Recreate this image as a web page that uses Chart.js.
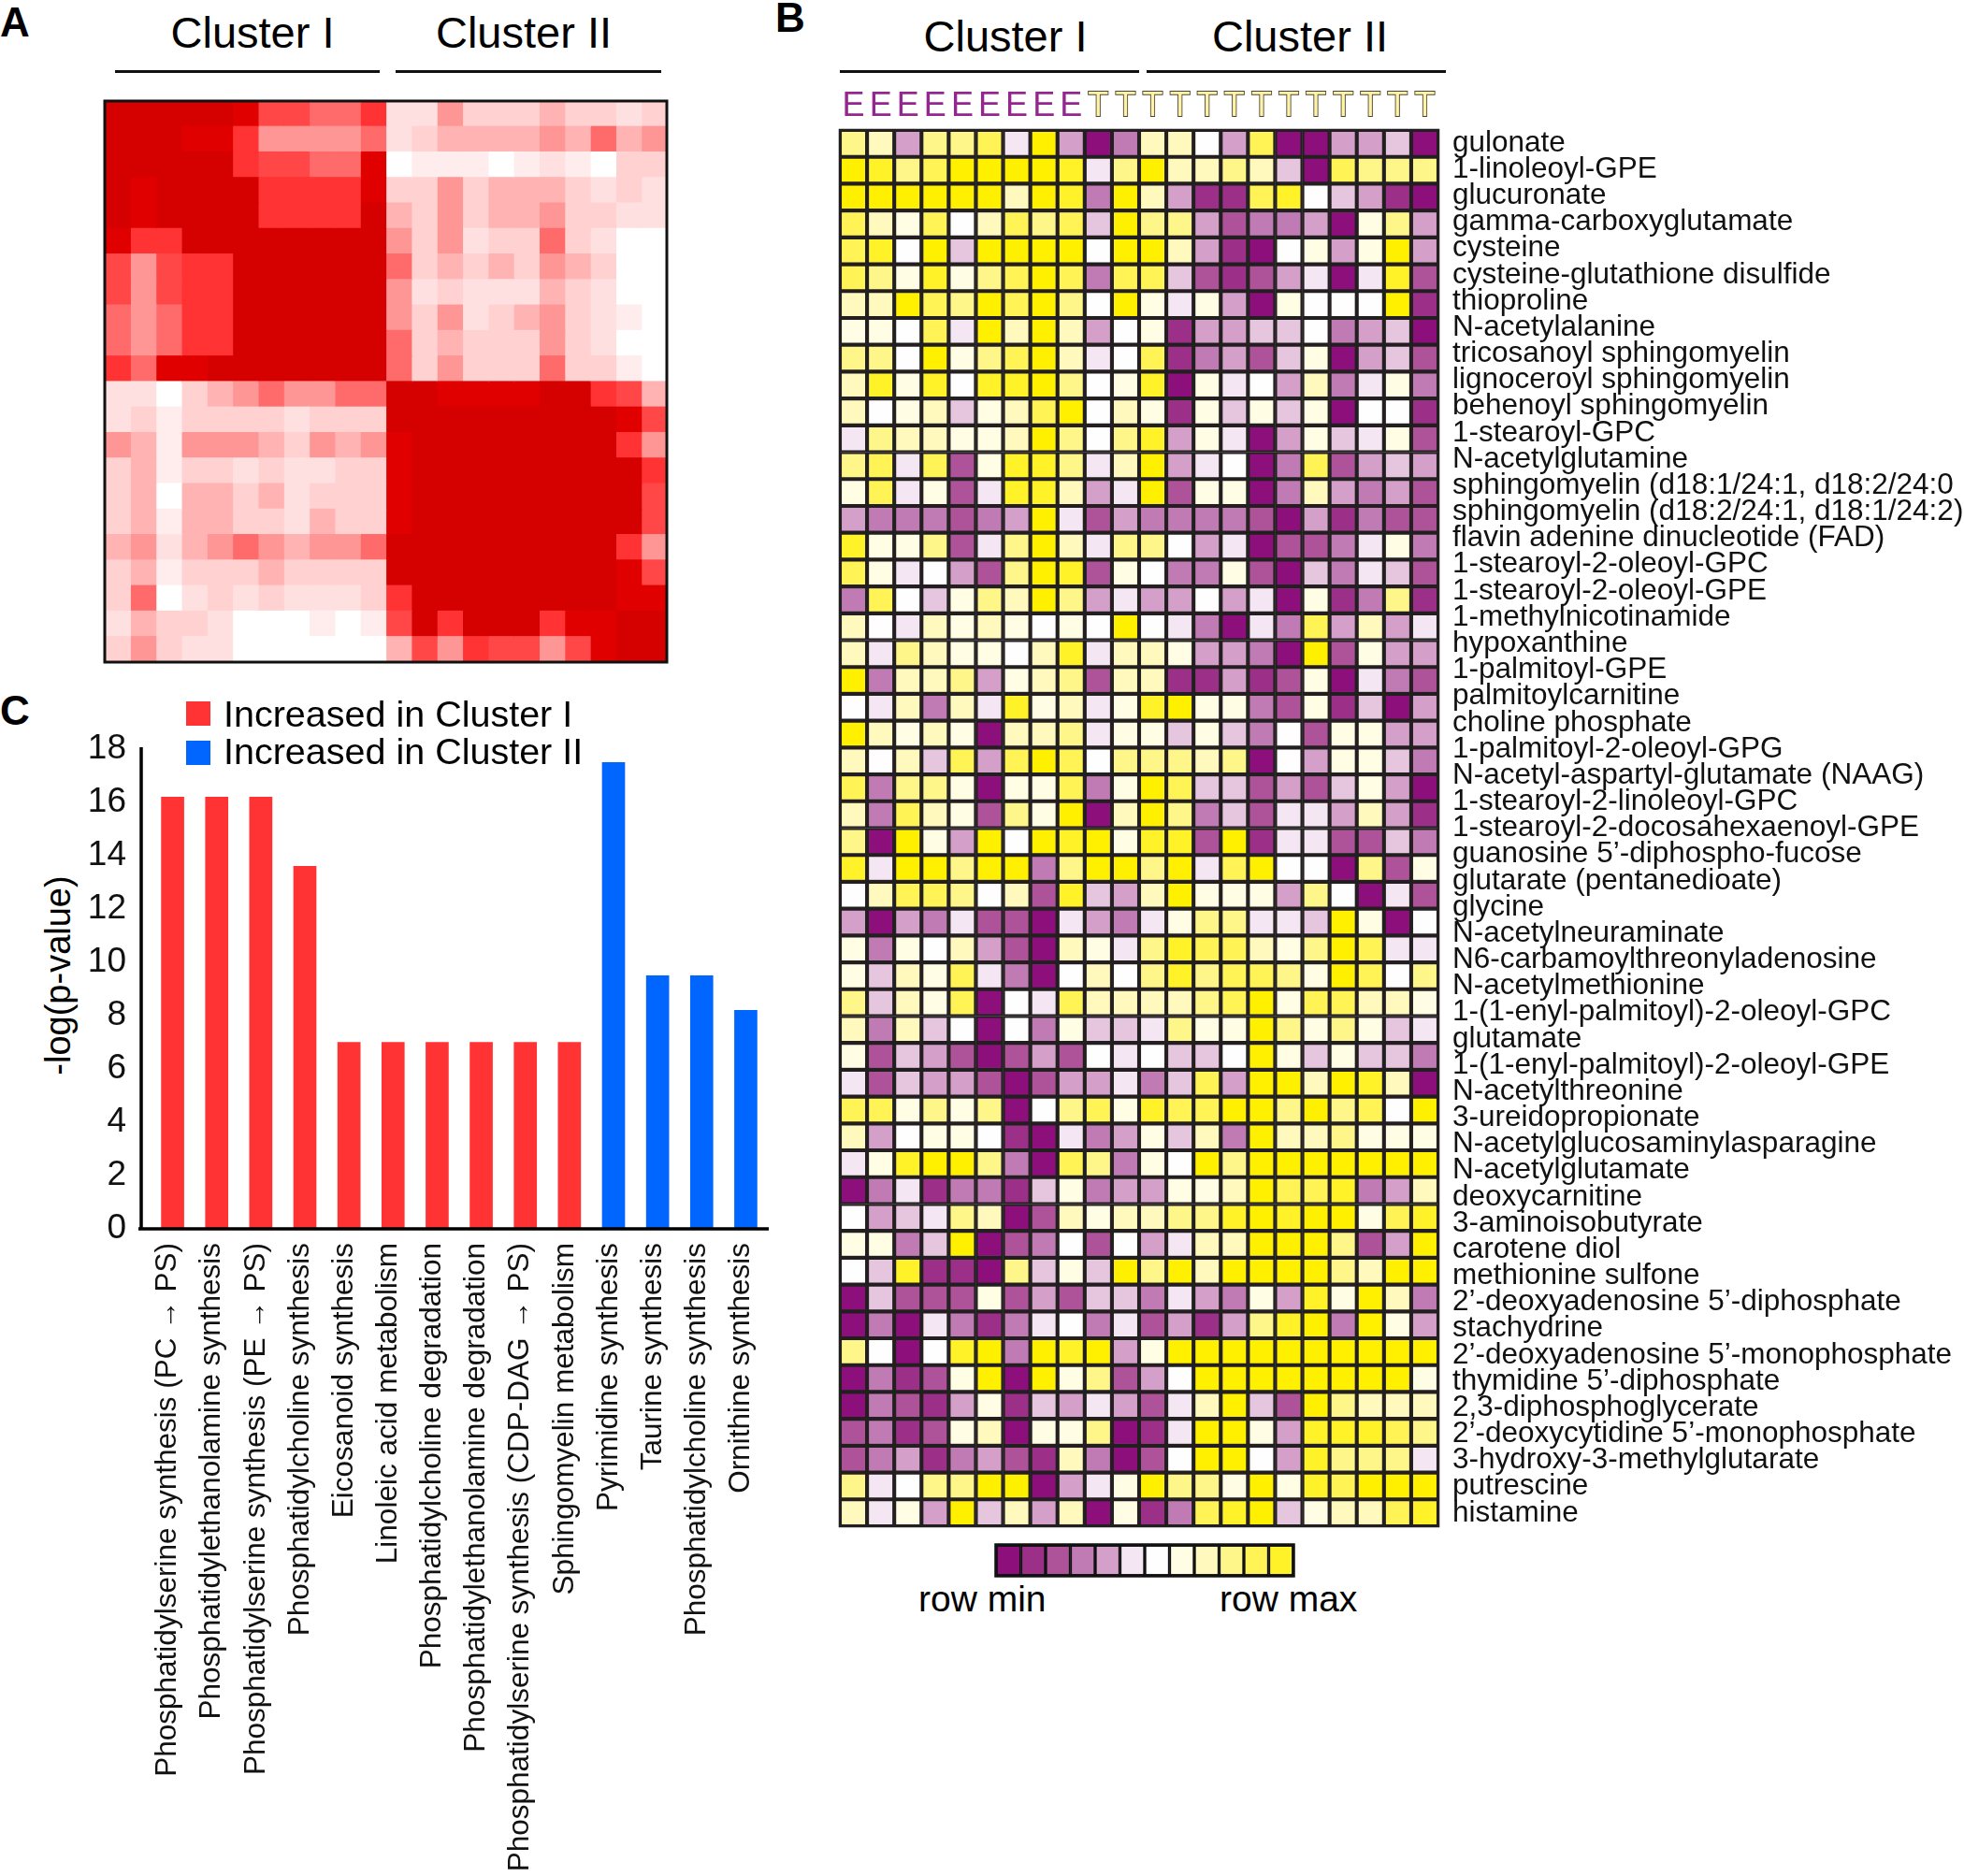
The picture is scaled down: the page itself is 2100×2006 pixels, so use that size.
<!DOCTYPE html>
<html>
<head>
<meta charset="utf-8">
<title>Clusters</title>
<script src="https://cdn.jsdelivr.net/npm/chart.js@4"></script>
<style>
  html, body { margin: 0; background: #fff; }
  #page { position: relative; width: 2100px; height: 2006px; overflow: hidden; font-family: "Liberation Sans", Arial, sans-serif; color: #000; }
  #page canvas { position: absolute; }
  .t { position: absolute; line-height: 1; white-space: nowrap; }
  .c { transform: translateX(-50%); }
  .panel { font-weight: bold; font-size: 44px; }
  .line { position: absolute; background: #111; }
  .box { position: absolute; width: 26px; height: 26px; }
</style>
</head>
<body>
<div id="page">
  <div class="t panel" style="left:0;top:2px">A</div>
  <div class="t panel" style="left:829px;top:-3px">B</div>
  <div class="t panel" style="left:0;top:738px">C</div>

  <div class="t c" style="left:270px;top:11px;font-size:47px">Cluster I</div>
  <div class="t c" style="left:560px;top:11px;font-size:47px">Cluster II</div>
  <div class="line" style="left:123px;top:75px;width:283px;height:3px"></div>
  <div class="line" style="left:423px;top:75px;width:284px;height:3px"></div>

  <div class="t c" style="left:1075px;top:15px;font-size:47px">Cluster I</div>
  <div class="t c" style="left:1390px;top:15px;font-size:47px">Cluster II</div>
  <div class="line" style="left:898px;top:75px;width:320px;height:3px"></div>
  <div class="line" style="left:1226px;top:75px;width:320px;height:3px"></div>

  <canvas id="consensus" width="605" height="604" style="left:110px;top:106px"></canvas>
  <canvas id="metabolites" width="1204" height="1564" style="left:896px;top:70px"></canvas>
  <canvas id="rowScale" width="322" height="37" style="left:1063px;top:1650px"></canvas>
  <canvas id="pathways" width="740" height="1246" style="left:90px;top:760px"></canvas>

  <div class="t" style="left:982px;top:1690px;font-size:39px">row min</div>
  <div class="t" style="left:1304px;top:1690px;font-size:39px">row max</div>

  <div class="box" style="left:199px;top:750px;background:#ff3333"></div>
  <div class="box" style="left:199px;top:792px;background:#0066ff"></div>
  <div class="t" style="left:239px;top:744px;font-size:39.5px">Increased in Cluster I</div>
  <div class="t" style="left:239px;top:784px;font-size:39.5px">Increased in Cluster II</div>
  <div class="t" style="left:62px;top:1043px;font-size:38px;transform:translate(-50%,-50%) rotate(-90deg)">-log(p-value)</div>
</div>

<script>
// panel A, consensus levels 0 (white) to 10 (dark red)
const consensusRows = [
  [10,10,10,10,10,9,7,7,6,6,8,2,2,5,3,3,3,4,3,3,2,3],
  [10,10,10,9,9,8,5,5,5,5,6,2,3,4,4,4,4,5,4,6,4,5],
  [10,10,10,10,10,8,7,7,6,6,9,0,1,1,1,0,1,2,1,0,3,3],
  [10,9,10,10,10,10,8,8,8,8,9,3,3,5,3,4,4,4,3,2,3,2],
  [10,9,10,10,10,10,8,8,8,8,10,4,3,5,3,4,4,5,3,3,2,2],
  [9,8,8,10,10,10,10,10,10,10,10,5,3,5,2,3,3,6,3,2,0,0],
  [7,5,7,8,8,10,10,10,10,10,10,6,3,4,3,4,3,5,4,3,0,0],
  [7,5,7,8,8,10,10,10,10,10,10,5,2,3,2,2,2,4,3,2,0,0],
  [6,5,6,8,8,10,10,10,10,10,10,5,3,5,2,3,4,5,3,2,1,0],
  [6,5,6,8,8,10,10,10,10,10,10,6,3,4,3,3,3,5,3,2,0,0],
  [8,6,9,9,10,10,10,10,10,10,10,6,3,5,3,3,3,6,3,3,1,0],
  [2,2,0,3,4,5,6,5,5,6,6,10,10,9,9,9,9,10,10,8,7,4],
  [2,3,1,3,3,3,3,2,3,3,3,10,10,10,10,10,10,10,10,10,9,7],
  [5,4,1,5,5,5,4,3,5,4,5,9,10,10,10,10,10,10,10,10,8,5],
  [3,4,1,3,3,2,3,2,2,3,3,9,10,10,10,10,10,10,10,10,10,8],
  [3,4,0,4,4,3,4,2,3,3,3,9,10,10,10,10,10,10,10,10,10,7],
  [3,4,1,4,4,3,3,2,4,3,3,9,10,10,10,10,10,10,10,10,10,7],
  [4,5,2,4,5,6,5,4,5,5,6,10,10,10,10,10,10,10,10,10,8,5],
  [3,4,1,3,3,3,4,3,3,3,3,10,10,10,10,10,10,10,10,10,9,7],
  [3,6,0,2,3,2,3,2,2,2,3,8,10,10,10,10,10,10,10,10,9,9],
  [2,4,3,3,2,0,0,0,1,0,1,7,10,8,10,10,10,8,9,9,10,10],
  [3,5,3,2,2,0,0,0,0,0,0,4,7,5,8,7,7,5,7,9,10,10]
];
const consensusColors = ['#ffffff','#ffecec','#ffe0e0','#ffd1d1','#ffb3b3','#ff9696','#ff6b6b','#ff4747','#ff3333','#e10000','#d50000'];

// panel B, row scaled levels -7 (row min) to 6 (row max)
const sampleGroups = ['E','E','E','E','E','E','E','E','E','T','T','T','T','T','T','T','T','T','T','T','T','T'];
const metaboliteNames = [
  'gulonate','1-linoleoyl-GPE','glucuronate','gamma-carboxyglutamate','cysteine','cysteine-glutathione disulfide',
  'thioproline','N-acetylalanine','tricosanoyl sphingomyelin','lignoceroyl sphingomyelin','behenoyl sphingomyelin',
  '1-stearoyl-GPC','N-acetylglutamine','sphingomyelin (d18:1/24:1, d18:2/24:0','sphingomyelin (d18:2/24:1, d18:1/24:2)',
  'flavin adenine dinucleotide (FAD)','1-stearoyl-2-oleoyl-GPC','1-stearoyl-2-oleoyl-GPE','1-methylnicotinamide',
  'hypoxanthine','1-palmitoyl-GPE','palmitoylcarnitine','choline phosphate','1-palmitoyl-2-oleoyl-GPG',
  'N-acetyl-aspartyl-glutamate (NAAG)','1-stearoyl-2-linoleoyl-GPC','1-stearoyl-2-docosahexaenoyl-GPE',
  'guanosine 5’-diphospho-fucose','glutarate (pentanedioate)','glycine','N-acetylneuraminate',
  'N6-carbamoylthreonyladenosine','N-acetylmethionine','1-(1-enyl-palmitoyl)-2-oleoyl-GPC','glutamate',
  '1-(1-enyl-palmitoyl)-2-oleoyl-GPE','N-acetylthreonine','3-ureidopropionate','N-acetylglucosaminylasparagine',
  'N-acetylglutamate','deoxycarnitine','3-aminoisobutyrate','carotene diol','methionine sulfone',
  '2’-deoxyadenosine 5’-diphosphate','stachydrine','2’-deoxyadenosine 5’-monophosphate','thymidine 5’-diphosphate',
  '2,3-diphosphoglycerate','2’-deoxycytidine 5’-monophosphate','3-hydroxy-3-methylglutarate','putrescine','histamine'
];
const metaboliteRows = [
  [3,2,-3,3,3,4,-1,6,-3,-7,-4,2,2,0,-3,4,-7,-7,-3,-3,-2,-7],
  [6,5,3,4,6,6,6,6,5,-1,3,6,2,2,3,2,-2,-7,4,3,3,3],
  [6,6,6,6,6,6,2,6,5,-4,6,2,-3,-6,-6,4,5,0,-2,-3,-6,-7],
  [4,2,1,4,0,2,4,3,4,-2,6,3,3,-3,-5,-4,-4,-3,-7,1,3,-3],
  [4,5,0,6,-2,6,6,6,6,0,6,6,2,-3,-6,-7,0,1,-3,1,6,-3],
  [4,3,1,5,1,3,4,6,4,-4,4,4,-2,-5,-6,-5,-3,-1,-7,-1,5,-5],
  [2,2,6,4,3,6,4,6,3,0,6,1,-1,1,-3,-7,1,0,0,0,6,-6],
  [1,1,0,4,-1,6,2,6,2,-3,0,1,-6,-3,-3,-2,-2,0,-4,-3,-2,-7],
  [3,3,0,6,1,3,4,6,2,-1,0,4,-6,-4,-3,-5,-2,1,-7,-3,-2,-5],
  [2,5,1,5,0,5,5,6,3,0,1,5,-7,1,-1,0,-3,2,-4,-1,1,-4],
  [2,0,1,2,-2,1,2,4,6,0,2,1,-6,1,-2,1,-2,1,-7,0,0,-6],
  [-1,3,2,2,1,1,2,6,3,0,3,5,-3,1,-1,-7,-3,1,-2,-1,1,-5],
  [3,4,-1,4,-5,1,5,5,3,-1,2,6,-3,-1,0,-7,-4,4,-5,-3,-2,-3],
  [1,4,-1,1,-5,-1,5,5,2,-3,-1,6,-5,1,1,-7,-4,2,-3,-4,-3,-5],
  [-3,-4,-4,-4,-5,-4,-3,6,-1,-5,-3,-4,-4,-4,-4,-5,-7,-3,-6,-4,-5,-5],
  [5,1,1,3,-5,-1,3,6,2,-1,3,3,0,-3,-1,-7,-5,-5,-4,-1,1,-4],
  [4,1,-1,0,-3,-5,3,6,5,-5,1,0,-4,-4,1,-5,-7,-2,-4,-1,-2,-5],
  [-4,4,0,-2,1,3,2,6,3,-3,-1,-3,-3,0,-3,-1,-7,1,-6,-4,3,-6],
  [2,0,-1,2,1,2,1,0,1,0,6,0,-1,-4,-7,-1,-4,4,-3,2,-3,-1],
  [2,-1,3,2,1,1,0,2,5,-1,2,2,1,-3,-3,-4,-7,6,-5,1,-3,-3],
  [6,-4,2,2,3,-3,1,2,3,-5,2,2,-6,-6,-3,-6,-5,1,-7,-1,-4,-5],
  [0,-1,2,-4,2,-1,5,1,2,-1,1,5,6,1,1,-4,-5,1,-6,-2,-7,-3],
  [6,2,1,2,1,-7,2,2,3,-1,1,1,-2,1,-2,-4,0,-5,1,1,-3,-3],
  [2,0,2,-2,4,-3,4,6,4,0,3,3,3,2,3,-7,0,-3,1,1,-2,-4],
  [4,-4,3,3,1,-7,1,1,4,-4,1,6,4,-2,-2,-5,-3,-5,-2,1,-3,-7],
  [2,-4,4,2,1,-5,3,1,6,-7,2,6,3,-4,-2,-5,-1,-1,-3,2,-3,-6],
  [3,-7,6,1,-3,6,0,6,5,6,1,5,5,-5,6,-6,-1,-1,-5,-5,-2,-4],
  [5,-1,6,6,3,6,6,-4,3,6,6,3,6,-1,4,6,0,0,-7,3,-5,1],
  [0,2,4,4,3,0,2,-5,5,-2,-3,2,6,1,1,1,-3,3,0,-7,-1,-5],
  [-3,-7,-3,-4,-1,-5,-5,-7,-1,-3,-4,-1,1,3,3,-1,-1,-2,6,1,-7,0],
  [1,-4,1,0,2,-3,-5,-7,2,1,-1,3,5,4,4,2,1,3,6,4,-1,-1],
  [1,-2,2,1,4,-1,-4,-7,0,2,0,3,5,3,4,4,3,1,6,4,0,3],
  [3,-2,2,1,4,-7,0,-1,4,2,2,2,2,3,4,6,1,4,4,2,2,1],
  [2,-4,2,-2,0,-7,0,-4,1,-2,-2,-1,3,1,1,6,3,1,3,1,-2,-1],
  [1,-5,-2,-3,-5,-7,-5,-3,-5,0,-1,0,-2,-2,0,6,1,-2,1,-2,-2,-4],
  [-1,-5,-2,-3,-3,-5,-7,-5,-3,-3,-1,-4,-2,4,-3,6,6,2,6,5,2,-7],
  [4,4,1,3,1,3,-7,0,3,4,1,5,4,4,6,6,3,6,3,4,0,6],
  [2,-3,0,1,1,0,-6,-7,-1,-4,-3,1,-2,2,-4,6,2,2,3,1,1,1],
  [-1,1,5,6,6,3,-4,-7,4,3,-4,1,0,6,3,6,6,6,6,6,6,6],
  [-7,-4,-1,-6,-4,-4,-6,-2,1,-4,-3,-3,1,1,2,6,4,4,5,-4,-3,2],
  [0,-3,-2,-1,3,2,-7,-5,2,1,2,2,3,3,5,6,5,6,6,1,4,5],
  [1,1,-4,-2,6,-7,-5,-4,0,-5,0,-3,-1,2,2,6,6,6,3,-5,-3,6],
  [0,-2,5,-6,-6,-7,3,-2,1,-2,6,3,6,2,6,6,6,6,3,2,6,6],
  [-7,-2,-5,-5,-5,1,-5,-3,-5,-2,-2,-4,-1,-3,-4,1,-3,5,1,6,2,-4],
  [-7,-4,-7,-1,-4,-6,-4,-1,0,-4,-1,-5,-3,-6,-3,3,5,6,-4,6,1,-3],
  [3,0,-7,0,5,6,-4,6,5,6,-3,1,6,6,6,6,6,6,6,6,6,6],
  [-7,-4,-6,-5,1,6,-7,6,1,3,-5,-3,0,6,6,6,6,6,6,6,6,1],
  [-7,-4,-5,-6,-3,1,-6,-2,-3,-1,-3,-5,-1,2,6,-2,-5,6,3,2,2,2],
  [-5,-4,-6,-5,1,2,-7,1,1,3,-7,-6,-1,6,6,1,-3,5,5,5,4,3],
  [-5,-4,-3,-6,-4,-3,-5,-6,2,-4,-7,-5,0,6,6,0,-3,5,3,3,3,-1],
  [3,-1,0,3,3,6,6,-7,-3,-1,1,6,3,3,1,6,1,5,4,6,6,6],
  [2,-1,1,-3,6,-2,2,-3,2,-7,1,-6,-4,4,5,6,-2,1,2,2,4,5]
];
const scaleLevels = [[-7,-6,-5,-4,-3,-1,0,1,2,3,4,5]];
const levelColors = ['#8c0f7b','#9c3089','#ae5399','#c07bb5','#d4a0ca','#e6c5df','#f4e6f2','#fffeff','#fffde4','#fff9be','#fff68a','#fff355','#fff228','#fff000'];
const levelColor = l => levelColors[l + 7];

// panel C
const pathwayNames = [
  'Phosphatidylserine synthesis (PC → PS)','Phosphatidylethanolamine synthesis','Phosphatidylserine synthesis (PE → PS)',
  'Phosphatidylcholine synthesis','Eicosanoid synthesis','Linoleic acid metabolism','Phosphatidylcholine degradation',
  'Phosphatidylethanolamine degradation','Phosphatidylserine synthesis (CDP-DAG → PS)','Sphingomyelin metabolism',
  'Pyrimidine synthesis','Taurine synthesis','Phosphatidylcholine synthesis','Ornithine synthesis'
];
const pathwayValues = [16.2,16.2,16.2,13.6,7,7,7,7,7,7,17.5,9.5,9.5,8.2];
const pathwayCluster = [1,1,1,1,1,1,1,1,1,1,2,2,2,2];
const clusterColors = { 1: '#ff3333', 2: '#0066ff' };

// axes here have a fixed size and must not push the plot area in for overhanging labels
const fixAxis = (s, size) => {
  if (s.isHorizontal()) s.height = size; else s.width = size;
  s.paddingLeft = s.paddingRight = s.paddingTop = s.paddingBottom = 0;
};

// frame round the plot area, drawn last so it sits over the cells
const framePlugin = {
  id: 'frame',
  afterDraw(chart, args, opts) {
    const a = chart.chartArea, ctx = chart.ctx;
    ctx.save();
    ctx.strokeStyle = opts.color;
    ctx.lineWidth = opts.width;
    ctx.strokeRect(a.left, a.top, a.right - a.left, a.bottom - a.top);
    ctx.restore();
  }
};

// cells are stacked horizontal bars, one dataset per column
const matrixChart = (id, rows, toColor, cfg) => {
  const nCols = rows[0].length;
  const datasets = [];
  for (let j = 0; j < nCols; j++) {
    datasets.push({
      data: rows.map(() => 1),
      backgroundColor: rows.map(r => toColor(r[j])),
      borderColor: cfg.gridColor,
      borderWidth: cfg.gridWidth,
      borderSkipped: false,
      inflateAmount: cfg.inflate === undefined ? 'auto' : cfg.inflate,
      barPercentage: 1,
      categoryPercentage: 1
    });
  }
  return new Chart(document.getElementById(id), {
    type: 'bar',
    data: { labels: rows.map((r, i) => i), datasets },
    options: {
      indexAxis: 'y',
      responsive: false,
      animation: false,
      devicePixelRatio: 1,
      layout: { padding: cfg.padding },
      plugins: { legend: { display: false }, tooltip: { enabled: false }, frame: { color: cfg.frameColor, width: cfg.frameWidth } },
      scales: Object.assign({
        x: { stacked: true, display: false, min: 0, max: nCols },
        y: { stacked: true, display: false }
      }, cfg.scales || {})
    },
    plugins: [framePlugin]
  });
};

matrixChart('consensus', consensusRows, l => consensusColors[l], {
  gridColor: 'rgba(0,0,0,0)', gridWidth: 0, inflate: 0.6, frameColor: '#111', frameWidth: 3, padding: { left: 2, right: 2, top: 2, bottom: 2 }
});

matrixChart('metabolites', metaboliteRows, levelColor, {
  gridColor: '#231f20', gridWidth: 2.4, frameColor: '#231f20', frameWidth: 2.5,
  padding: { left: 2, right: 0, top: 0, bottom: 2 },
  scales: {
    xGroups: {
      axis: 'x', type: 'category', position: 'top', offset: true, labels: sampleGroups,
      grid: { display: false }, border: { display: false },
      afterFit: s => fixAxis(s, 69),
      ticks: {
        autoSkip: false, minRotation: 0, maxRotation: 0, padding: -5,
        font: { family: 'Liberation Sans', size: 36 },
        color: c => c.tick.label === 'E' ? '#93278f' : '#fff3a8',
        textStrokeColor: c => c.tick.label === 'E' ? '#93278f' : '#4a4334',
        textStrokeWidth: c => c.tick.label === 'E' ? 0 : 1.8
      }
    },
    yNames: {
      axis: 'y', type: 'category', position: 'right', offset: true, labels: metaboliteNames,
      grid: { display: false }, border: { display: false },
      afterFit: s => fixAxis(s, 562),
      ticks: { autoSkip: false, padding: 7, color: '#111', font: { family: 'Liberation Sans', size: 31.5 } }
    }
  }
});

matrixChart('rowScale', scaleLevels, levelColor, {
  gridColor: '#111', gridWidth: 2, frameColor: '#111', frameWidth: 3.5, padding: { left: 2, right: 2, top: 2, bottom: 2 }
});

// L shaped axis lines stand clear of the first bar, so they are not the scale borders
const axisLinesPlugin = {
  id: 'axisLines',
  afterDraw(chart) {
    const a = chart.chartArea, ctx = chart.ctx;
    ctx.save();
    ctx.strokeStyle = '#000';
    ctx.lineWidth = 3.5;
    ctx.beginPath();
    ctx.moveTo(a.left - 10, a.top - 2);
    ctx.lineTo(a.left - 10, a.bottom);
    ctx.moveTo(a.left - 13, a.bottom);
    ctx.lineTo(a.right + 1, a.bottom);
    ctx.stroke();
    ctx.restore();
  }
};

new Chart(document.getElementById('pathways'), {
  type: 'bar',
  data: {
    labels: pathwayNames,
    datasets: [{
      data: pathwayValues,
      backgroundColor: pathwayCluster.map(c => clusterColors[c]),
      barThickness: 24
    }]
  },
  options: {
    responsive: false,
    animation: false,
    devicePixelRatio: 1,
    layout: { padding: { top: 41, right: 9, left: 0, bottom: 0 } },
    plugins: { legend: { display: false }, tooltip: { enabled: false } },
    scales: {
      x: {
        grid: { display: false }, border: { display: false },
        afterFit: s => fixAxis(s, 692),
        ticks: { autoSkip: false, minRotation: 90, maxRotation: 90, padding: 7, labelOffset: -5, color: '#111', font: { family: 'Liberation Sans', size: 31.5 } }
      },
      y: {
        min: 0, max: 18,
        grid: { display: false }, border: { display: false },
        afterFit: s => fixAxis(s, 71),
        ticks: { stepSize: 2, padding: 18, color: '#111', font: { family: 'Liberation Sans', size: 37 } }
      }
    }
  },
  plugins: [axisLinesPlugin]
});
</script>
</body>
</html>
